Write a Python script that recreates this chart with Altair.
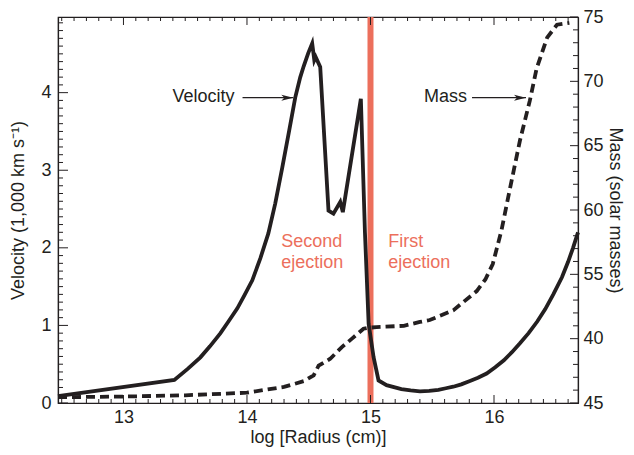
import altair as alt
import pandas as pd
import numpy as np

# ---- data ----
vel_x = [12.47, 13.412, 13.52, 13.623, 13.70, 13.784, 13.85, 13.922, 13.98, 14.043, 14.108,
         14.173, 14.229, 14.286, 14.342, 14.391, 14.431, 14.459, 14.496, 14.528,
         14.545, 14.556, 14.593, 14.66, 14.70, 14.755, 14.776, 14.922, 14.955, 14.985,
         15.025, 15.065, 15.13, 15.25, 15.325, 15.40, 15.475, 15.55, 15.61, 15.67, 15.735,
         15.80, 15.87, 15.94, 16.01, 16.08, 16.145, 16.21, 16.28, 16.35, 16.415, 16.48,
         16.55, 16.60, 16.64, 16.68]
vel_v = [0.09, 0.297, 0.44, 0.589, 0.73, 0.898, 1.05, 1.22, 1.39, 1.581, 1.864,
         2.186, 2.573, 3.037, 3.514, 3.939, 4.197, 4.34, 4.51, 4.635,
         4.42, 4.46, 4.33, 2.48, 2.44, 2.59, 2.46, 3.92, 2.20, 1.02,
         0.59, 0.29, 0.23, 0.18, 0.163, 0.15, 0.155, 0.17, 0.19, 0.21, 0.24,
         0.28, 0.325, 0.38, 0.46, 0.55, 0.655, 0.77, 0.90, 1.05, 1.21, 1.40,
         1.62, 1.82, 2.00, 2.20]

mass_x = [12.47, 13.0, 13.5, 14.0, 14.3, 14.46, 14.54, 14.58, 14.674, 14.768, 14.85,
          14.943, 14.985, 15.05, 15.27, 15.40, 15.48, 15.67, 15.86, 15.93, 15.99, 16.06,
          16.13, 16.21, 16.29, 16.345, 16.43, 16.51, 16.61]
mass_m = [45.45, 45.5, 45.6, 45.8, 46.25, 46.7, 47.15, 47.9, 48.44, 49.34, 50.0,
          50.77, 50.85, 50.9, 51.0, 51.3, 51.45, 52.2, 53.7, 54.6, 55.8, 58.4,
          61.7, 65.4, 68.5, 71.0, 73.4, 74.4, 74.55]

x_major = [13, 14, 15, 16]
x_minor = [round(v, 1) for v in np.arange(12.5, 16.65, 0.1) if abs(v - round(v)) > 1e-6]
v_major = [0, 1, 2, 3, 4]
v_minor = [round(v, 1) for v in np.arange(0.1, 4.95, 0.1) if abs(v - round(v)) > 1e-6]
m_major = [45, 50, 55, 60, 65, 70, 75]
m_minor = [v for v in range(46, 75) if v % 5 != 0]

ejection_x = [15.0]

labels_black = ["Velocity", "Mass"]
labels_black_x = [13.396, 15.434]
labels_black_v = [3.95, 3.95]

arrow_x1 = [13.964, 15.822]
arrow_x2 = [14.375, 16.259]
arrow_v = [3.935, 3.935]

labels_red = ["Second", "ejection", "First", "ejection"]
labels_red_x = [14.278, 14.278, 15.143, 15.143]
labels_red_v = [2.07, 1.80, 2.07, 1.80]

# ---- styling ----
XDOM = [12.47, 16.68]
VDOM = [0, 4.975]
MDOM = [45, 75]
W, H = 520, 386
INK = "#231F20"
RED = "#EC6F5C"
FONT = "Liberation Sans"

xs = alt.Scale(domain=XDOM, nice=False, zero=False)
vs = alt.Scale(domain=VDOM, nice=False, zero=False)
ms = alt.Scale(domain=MDOM, nice=False, zero=False)

x_axis = alt.Axis(values=x_major, title="log [Radius (cm)]", ticks=False,
                  labelPadding=5, titlePadding=2, format="d")
v_axis = alt.Axis(values=v_major, title="Velocity (1,000 km s⁻¹)", ticks=False,
                  labelPadding=7, titlePadding=13, format="d")
m_axis = alt.Axis(orient="right", values=m_major, title="Mass (solar masses)",
                  ticks=False, labelPadding=5, titlePadding=2, format="d",
                  labelExpr="datum.value == 50 ? '40' : datum.label")


def X(f):
    return alt.X(f, scale=xs, axis=x_axis)


def V(f):
    return alt.Y(f, scale=vs, axis=v_axis)


def M(f):
    return alt.Y(f, scale=ms, axis=m_axis)


vel_df = pd.DataFrame({"x": vel_x, "v": vel_v, "i": range(len(vel_x))})
mass_df = pd.DataFrame({"x": mass_x, "m": mass_m, "i": range(len(mass_x))})

red_rule = alt.Chart(pd.DataFrame({"x": ejection_x})).mark_rule(
    color=RED, strokeWidth=6).encode(x=X("x:Q"))

vel_line = alt.Chart(vel_df).mark_line(color=INK, strokeWidth=3.8).encode(
    x=X("x:Q"), y=V("v:Q"), order=alt.Order("i:Q"))


def xticks(vals, length, top):
    df = pd.DataFrame({"x": vals})
    if top:
        yy, yy2 = alt.value(0), alt.value(length)
    else:
        yy, yy2 = alt.value(H), alt.value(H - length)
    return alt.Chart(df).mark_rule(color=INK, strokeWidth=1).encode(
        x=X("x:Q"), y=yy, y2=yy2)


def vticks(vals, length):
    df = pd.DataFrame({"v": vals})
    return alt.Chart(df).mark_rule(color=INK, strokeWidth=1).encode(
        y=V("v:Q"), x=alt.value(0), x2=alt.value(length))


def mticks(vals, length):
    df = pd.DataFrame({"m": vals})
    return alt.Chart(df).mark_rule(color=INK, strokeWidth=1).encode(
        y=M("m:Q"), x=alt.value(W), x2=alt.value(W - length))


black_txt = alt.Chart(pd.DataFrame({"x": labels_black_x, "v": labels_black_v,
                                    "t": labels_black})).mark_text(
    align="left", baseline="middle", font=FONT, fontSize=18, color=INK).encode(
    x=X("x:Q"), y=V("v:Q"), text="t:N")

red_txt = alt.Chart(pd.DataFrame({"x": labels_red_x, "v": labels_red_v,
                                  "t": labels_red})).mark_text(
    align="left", baseline="middle", font=FONT, fontSize=18, color=RED).encode(
    x=X("x:Q"), y=V("v:Q"), text="t:N")

arr_df = pd.DataFrame({"x": arrow_x1, "x2": arrow_x2, "v": arrow_v})
arrow_lines = alt.Chart(arr_df).mark_rule(color=INK, strokeWidth=1.3).encode(
    x=X("x:Q"), x2="x2:Q", y=V("v:Q"))
arrow_heads = alt.Chart(arr_df).mark_point(
    shape="M0,0L-2,-0.5L-1.5,0L-2,0.5Z", size=144, filled=True, color=INK, opacity=1,
    strokeWidth=0).encode(x=X("x2:Q"), y=V("v:Q"))

left = alt.layer(
    red_rule, vel_line,
    xticks(x_minor, 4, False), xticks(x_major, 8, False),
    xticks(x_minor, 4, True), xticks(x_major, 8, True),
    vticks(v_minor, 5), vticks(v_major, 10),
    black_txt, red_txt, arrow_lines, arrow_heads,
)

mass_line = alt.Chart(mass_df).mark_line(color=INK, strokeWidth=3.8, strokeDash=[9, 5]).encode(
    x=X("x:Q"), y=M("m:Q"), order=alt.Order("i:Q"))

right = alt.layer(mass_line, mticks(m_minor, 5), mticks(m_major, 8))

chart = alt.layer(left, right).resolve_scale(y="independent").properties(
    width=W, height=H,
    autosize=alt.AutoSizeParams(type="none"),
    padding={"left": 50, "top": 9, "right": 48, "bottom": 44},
).configure_view(stroke=INK, strokeWidth=1.2).configure_axis(
    domainColor=INK, domainWidth=1.2, labelColor=INK, titleColor=INK,
    labelFont=FONT, titleFont=FONT, labelFontSize=18, titleFontSize=18,
    titleFontWeight="normal", grid=False,
)

chart.save("out.html", embed_options={"renderer": "svg", "actions": False})
